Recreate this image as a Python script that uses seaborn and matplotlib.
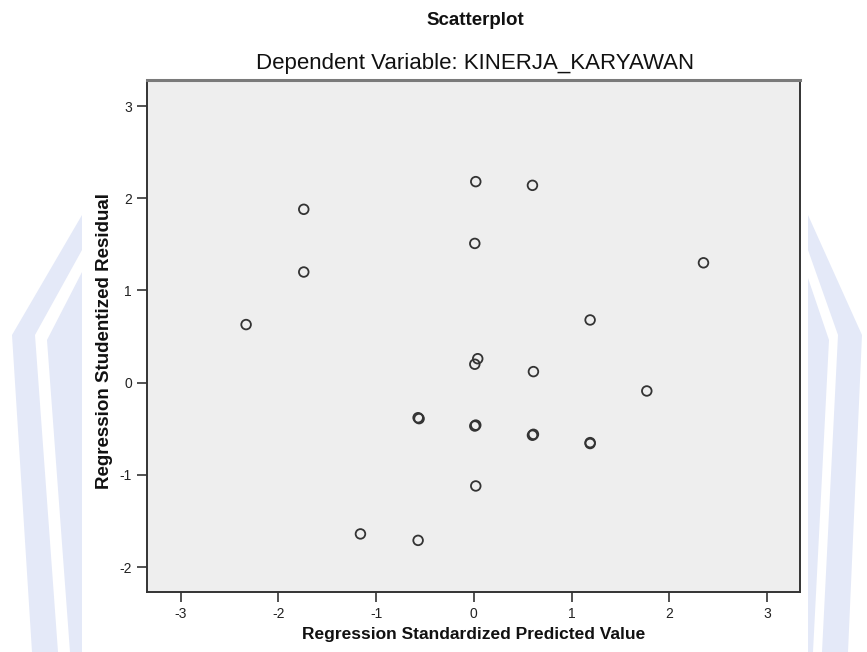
import numpy as np
import pandas as pd
import matplotlib
matplotlib.use('Agg')
import matplotlib.pyplot as plt
import seaborn as sns
from matplotlib.patches import Polygon

# Values
pred_value = [-1.74, -1.74, -2.33, 0.02, 0.60, 0.01, 2.35, 1.19, 0.04, 0.01,
              0.61, 1.77, 0.01, 0.02, 0.60, 0.61, 1.19, 1.19, -0.57, -0.56,
              0.02, -1.16, -0.57]
stud_resid = [1.88, 1.20, 0.63, 2.18, 2.14, 1.51, 1.30, 0.68, 0.26, 0.20,
              0.12, -0.09, -0.47, -0.46, -0.57, -0.56, -0.66, -0.65, -0.38, -0.39,
              -1.12, -1.64, -1.71]
x_ticks = [-3, -2, -1, 0, 1, 2, 3]
y_ticks = [-2, -1, 0, 1, 2, 3]

df = pd.DataFrame({"pred": pred_value, "resid": stud_resid})

sns.set_style("white")
plt.rcParams['font.family'] = ['Liberation Sans', 'DejaVu Sans']

W, H = 867, 652
fig = plt.figure(figsize=(W / 100, H / 100), dpi=100)


def px(pts):
    # pixel coords (from top-left) -> figure fraction
    return [(x / W, 1 - y / H) for x, y in pts]


# faint watermark bands peeking out left and right of the chart
wm = '#e4e9f8'
bands = [
    [(82, 215), (82, 250), (35, 335), (58, 652), (32, 652), (12, 335)],
    [(82, 272), (82, 652), (70, 652), (47, 340)],
    [(808, 215), (808, 250), (838, 335), (822, 652), (848, 652), (862, 335)],
    [(808, 278), (808, 652), (813, 652), (829, 340)],
]
for b in bands:
    fig.patches.append(Polygon(px(b), closed=True, transform=fig.transFigure,
                               facecolor=wm, edgecolor='none', zorder=-1))

ax = fig.add_axes([0.170, 0.092, 0.753, 0.785])
ax.set_facecolor('#eeeeee')

sns.scatterplot(data=df, x="pred", y="resid", ax=ax, marker='o', s=48,
                facecolor='none', edgecolor='#333333', linewidth=1.3, legend=False)

ax.set_xlim(-3.34, 3.34)
ax.set_ylim(-2.27, 3.28)
ax.set_xticks(x_ticks)
ax.set_yticks(y_ticks)
ax.set_xticklabels([str(t) for t in x_ticks])
ax.set_yticklabels([str(t) for t in y_ticks])
ax.tick_params(axis='both', direction='out', length=7, width=1.2, color='#333333',
               labelsize=10, labelcolor='#222222', pad=4)
ax.tick_params(bottom=True, left=True)

for side in ['left', 'bottom', 'right']:
    ax.spines[side].set_color('#333333')
    ax.spines[side].set_linewidth(1.4)
ax.spines['top'].set_color('#7a7a7a')
ax.spines['top'].set_linewidth(2.2)

ax.set_xlabel("Regression Standardized Predicted Value", fontsize=12.5,
              fontweight='bold', color='#111111')
ax.set_ylabel("Regression Studentized Residual", fontsize=13.5, fontweight='bold',
              color='#111111')
ax.xaxis.set_label_coords(0.5, -0.068)
ax.yaxis.set_label_coords(-0.052, 0.49)

fig.text(0.548, 0.968, "Scatterplot", ha='center', va='center', fontsize=13.5,
         fontweight='bold', color='#111111')
fig.text(0.548, 0.903, "Dependent Variable: KINERJA_KARYAWAN", ha='center',
         va='center', fontsize=16, color='#111111')

fig.savefig("out.png", dpi=100)
plt.close(fig)
